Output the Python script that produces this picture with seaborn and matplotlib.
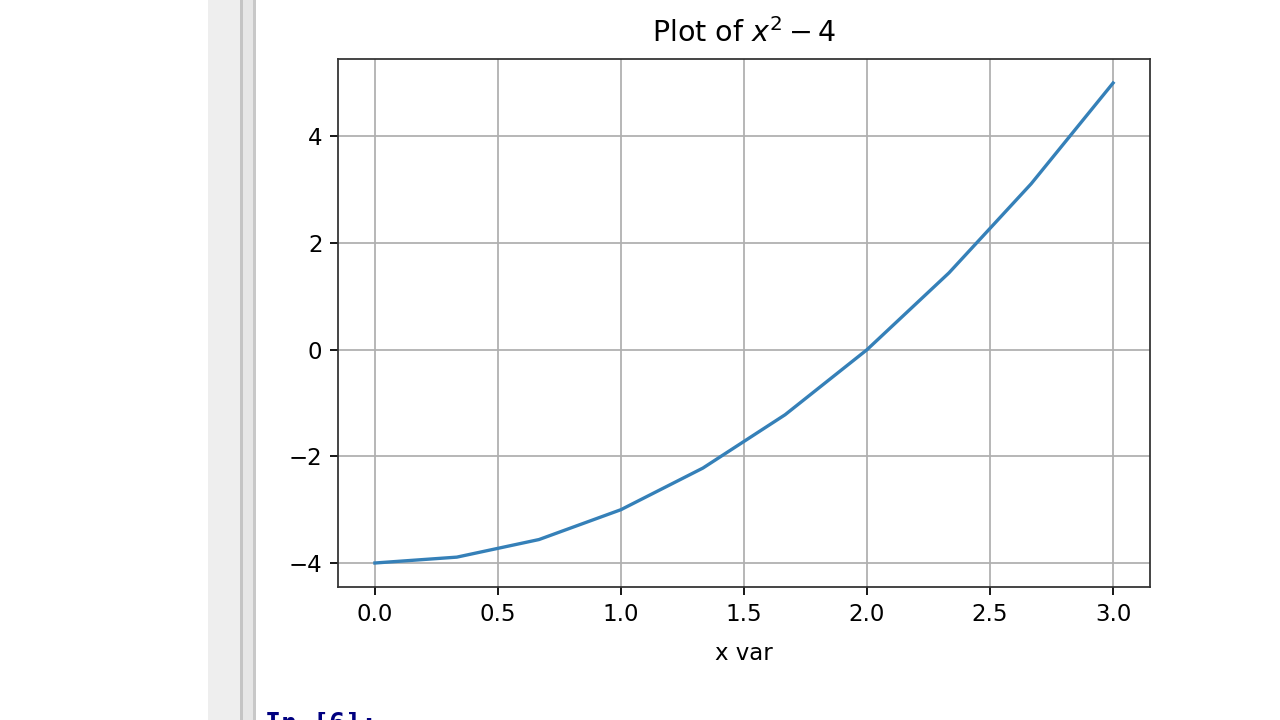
import matplotlib
matplotlib.use("Agg")
import matplotlib.pyplot as plt
from matplotlib.patches import Rectangle
import seaborn as sns

# Data
x_vals = [0.0, 0.333, 0.667, 1.0, 1.333, 1.667, 2.0, 2.333, 2.667, 3.0]
y_vals = [-4.0, -3.89, -3.56, -3.0, -2.22, -1.22, 0.0, 1.44, 3.11, 5.0]

title_text = "Plot of $x^2 - 4$"
xlabel_text = "x var"

fig = plt.figure(figsize=(8, 4.5), dpi=160)
fig.patch.set_facecolor("white")

# notebook-like left sidebar decoration
fig.add_artist(Rectangle((208 / 1280, 0), 32 / 1280, 1, transform=fig.transFigure,
                         facecolor="#eeeeee", edgecolor="none"))
fig.add_artist(Rectangle((240 / 1280, 0), 3 / 1280, 1, transform=fig.transFigure,
                         facecolor="#c4c4c4", edgecolor="none"))
fig.add_artist(Rectangle((243 / 1280, 0), 10 / 1280, 1, transform=fig.transFigure,
                         facecolor="#e6e6e6", edgecolor="none"))
fig.add_artist(Rectangle((253 / 1280, 0), 3 / 1280, 1, transform=fig.transFigure,
                         facecolor="#c8c8c8", edgecolor="none"))

ax = fig.add_axes([338 / 1280, 1 - 587 / 720, (1150 - 338) / 1280, (587 - 59) / 720])
sns.lineplot(x=x_vals, y=y_vals, ax=ax, color="#3580b8", linewidth=1.5)
ax.grid(True)
ax.set_title(title_text, fontsize=12.8, pad=7.5)
ax.set_xlabel(xlabel_text, fontsize=10.3, labelpad=7.5)
ax.set_ylabel("")
ax.set_xticks([0.0, 0.5, 1.0, 1.5, 2.0, 2.5, 3.0])
ax.set_yticks([-4, -2, 0, 2, 4])
ax.tick_params(labelsize=10.3)
for s in ax.spines.values():
    s.set_color("#333333")

fig.text(265 / 1280, 8 / 720, "In [6]:", color="#000080", fontsize=12,
         fontweight="bold", va="top", ha="left", family="DejaVu Sans Mono")

fig.savefig("out.png", dpi=160)
